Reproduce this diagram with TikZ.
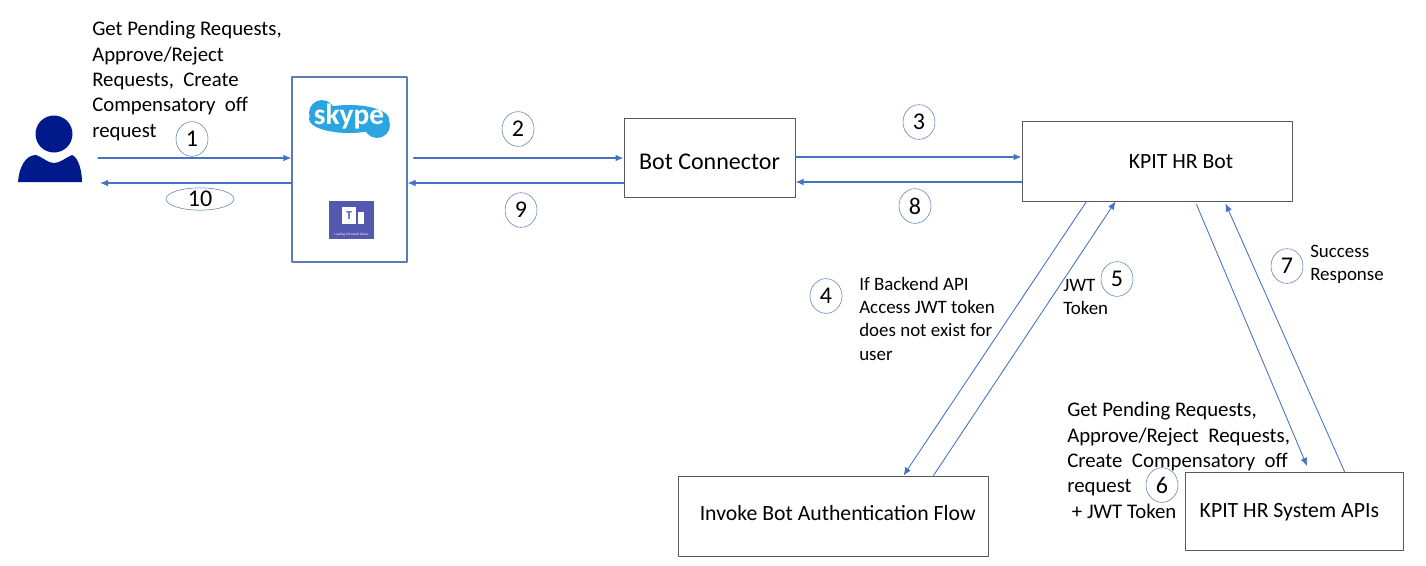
\documentclass[tikz,border=0pt]{standalone}
\usepackage{fontspec}
\setmainfont{Carlito}
\usetikzlibrary{shapes.geometric,calc,arrows.meta}
\definecolor{flowblue}{HTML}{4472C4}
\definecolor{ringblue}{HTML}{5B7DB5}
\definecolor{userblue}{HTML}{001A8C}
\definecolor{skypeblue}{HTML}{2BA5E0}
\definecolor{teamspurple}{HTML}{5558AF}
\tikzset{
  flow/.style={-{Latex[length=6pt,width=5pt]}, flowblue, line width=0.85pt},
  thinflow/.style={-{Latex[length=6pt,width=5pt]}, flowblue, line width=0.65pt},
  stepbox/.style={draw=black!65, line width=0.75pt, fill=white, font=\fontsize{16.3}{18}\selectfont},
  numring/.style={draw=ringblue, ellipse, inner sep=0pt, minimum width=24pt, minimum height=26pt, font=\fontsize{18}{18}\selectfont},
  note/.style={align=left, anchor=north west, inner sep=0pt, font=\fontsize{15.6}{19}\selectfont},
  smallnote/.style={align=left, anchor=north west, inner sep=0pt, font=\fontsize{14.2}{17.4}\selectfont}
}
\begin{document}
\begin{tikzpicture}[x=0.75pt, y=-0.75pt, line cap=round, line join=round]
  \useasboundingbox (0,0) rectangle (1426,565);

  % user
  \fill[userblue] (54,134) circle (18.5);
  \fill[userblue] (18,182) .. controls (19,168) and (25,155) .. (36,155) .. controls (44,158) and (48,163) .. (54,163)
    .. controls (60,163) and (65,158) .. (72,155) .. controls (78,157) and (82,170) .. (82,182) -- cycle;

  % boxes
  \node[draw=ringblue, line width=0.85pt, minimum width=86.25pt, minimum height=138.75pt] (client) at (349.5,169.5) {};
  \node[stepbox, minimum width=128.25pt, minimum height=59.25pt, font=\fontsize{18}{20}\selectfont] (connector) at (709.5,157.5) {\raisebox{-9.1pt}[0pt][0pt]{Bot Connector}};
  \node[stepbox, minimum width=202.5pt, minimum height=60pt] (hrbot) at (1157,161) {\hspace*{36pt}\raisebox{-5.9pt}[0pt][0pt]{KPIT HR Bot}};
  \node[stepbox, minimum width=232.5pt, minimum height=60pt] (authflow) at (833,516) {\hspace*{7pt}\raisebox{-3.6pt}[0pt][0pt]{Invoke Bot Authentication Flow}};
  \node[stepbox, minimum width=163.5pt, minimum height=58.5pt] (hrapi) at (1294,511) {\hspace*{-7pt}\raisebox{-5.1pt}[0pt][0pt]{KPIT HR System APIs}};

  % skype logo
  \fill[skypeblue] (349,119) ellipse (40 and 14);
  \fill[skypeblue] (322,113) circle (13);
  \fill[skypeblue] (377,125) circle (13);
  \node[white, inner sep=0pt, font=\fontsize{22}{22}\selectfont\bfseries] (skype) at (349,117) {skype};

  % teams logo
  \node[fill=teamspurple, minimum width=33.75pt, minimum height=28.5pt, inner sep=0pt] (teams) at (351.5,220) {};
  \fill[white] (342,207) rectangle (356,224);
  \fill[white] (358,212) rectangle (364,224);
  \node[teamspurple, inner sep=0pt, font=\fontsize{9}{9}\selectfont\bfseries] (teamsT) at (349,216) {T};
  \node[white, inner sep=0pt, font=\fontsize{2.5}{3}\selectfont] (teamsText) at (351.5,235) {Loading Microsoft Teams};

  % free ends of the arrows
  \coordinate (userIn) at (98,158);
  \coordinate (userOut) at (100,183);
  \coordinate (apiTip) at (1307,466);

  % horizontal arrows
  \draw[flow] (userIn) -- (userIn -| client.west);
  \draw[flow] (client.west |- userOut) -- (userOut);
  \draw[flow] (client.east |- 0,158) ++(6,0) -- (connector.west |- 0,158);
  \draw[flow] (connector.west |- 0,183) -- (client.east |- 0,183);
  \draw[flow] (connector.east |- 0,157) -- (hrbot.west |- 0,157);
  \draw[flow] (hrbot.west |- 0,182) -- (connector.east |- 0,182);

  % slanted arrows
  \draw[thinflow] (hrbot.south west) ++(65,0) -- ($(authflow.north west)+(226,0)$);
  \draw[thinflow] (authflow.north west) ++(256,0) -- ($(hrbot.south west)+(94,0)$);
  \draw[thinflow] (hrbot.south west) ++(175,3) -- (apiTip);
  \draw[thinflow] (hrapi.north west) ++(160,0) -- ($(hrbot.south west)+(204,2)$);

  % numbers
  \node[numring] (n1) at (192,139) {1};
  \node[numring, minimum width=51pt, minimum height=13.5pt] (n10) at (200,199) {10};
  \node[numring] (n2) at (518,129) {2};
  \node[numring] (n3) at (919,122) {3};
  \node[numring] (n4) at (826,296) {4};
  \node[numring] (n5) at (1117,279) {5};
  \node[numring] (n6) at (1162,485) {6};
  \node[numring] (n7) at (1287,266) {7};
  \node[numring] (n8) at (915,206) {8};
  \node[numring] (n9) at (521,210) {9};

  % notes
  \node[note] (noteUser) at (92,21) {Get Pending Requests,\\Approve/Reject\\Requests,\ \ Create\\Compensatory\ \ off\\request};
  \node[note] (noteApi) at (1067,402) {Get Pending Requests,\\Approve/Reject\ \ Requests,\\Create\ \ Compensatory\ \ off\\request\\\ + JWT Token};
  \node[smallnote] (noteAuth) at (859,277) {If Backend API\\Access JWT token\\does not exist for\\user};
  \node[smallnote] (noteJwt) at (1063,279) {JWT\\Token};
  \node[smallnote] (noteOk) at (1310,245) {Success\\Response};
\end{tikzpicture}
\end{document}
